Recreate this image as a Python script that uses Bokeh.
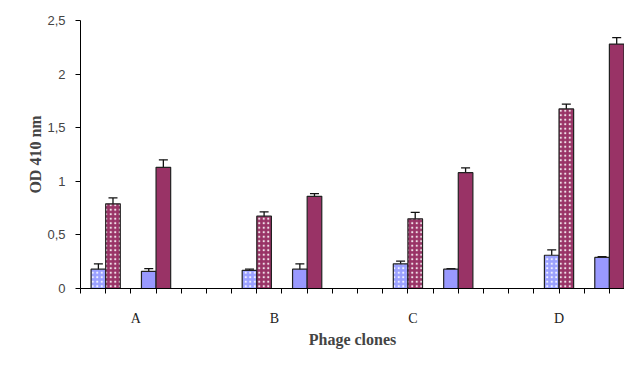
from bokeh.plotting import figure
from bokeh.models import ColumnDataSource, Whisker, FixedTicker, Range1d, TeeHead
from bokeh.embed import file_html
from bokeh.resources import INLINE

# ---- data ----
categories = ["A", "B", "C", "D"]
dotted_blue = [0.18, 0.17, 0.23, 0.31]
dotted_blue_err = [0.05, 0.01, 0.025, 0.05]
dotted_maroon = [0.79, 0.675, 0.65, 1.675]
dotted_maroon_err = [0.055, 0.04, 0.06, 0.045]
solid_blue = [0.16, 0.18, 0.18, 0.29]
solid_blue_err = [0.025, 0.05, 0.006, 0.006]
solid_maroon = [1.13, 0.86, 1.08, 2.28]
solid_maroon_err = [0.07, 0.025, 0.045, 0.06]
y_ticks = [0, 0.5, 1, 1.5, 2, 2.5]
y_tick_labels = ["0", "0,5", "1", "1,5", "2", "2,5"]

# ---- layout helpers ----
bw = 0.58
label_pos = [2.2, 7.7, 13.2, 19.0]
pair1 = [1 + 6 * i for i in range(len(categories))]
pair2 = [3 + 6 * i for i in range(len(categories))]

p = figure(width=624, height=350, output_backend="svg", toolbar_location=None,
           x_range=Range1d(0, 21.6), y_range=Range1d(0, 2.5),
           min_border_left=80, min_border_right=0, min_border_top=20,
           min_border_bottom=58)
p.outline_line_color = None
p.xgrid.visible = False
p.ygrid.visible = False
p.background_fill_color = "white"
p.border_fill_color = "white"

series = [
    ([x - bw / 2 for x in pair1], dotted_blue, dotted_blue_err, "#9aa0ff", "."),
    ([x + bw / 2 for x in pair1], dotted_maroon, dotted_maroon_err, "#993366", "."),
    ([x - bw / 2 for x in pair2], solid_blue, solid_blue_err, "#9999ff", None),
    ([x + bw / 2 for x in pair2], solid_maroon, solid_maroon_err, "#993366", None),
]

for xs, vals, errs, col, hatch in series:
    src = ColumnDataSource(dict(
        x=xs, top=vals,
        upper=[v + e for v, e in zip(vals, errs)],
        lower=[v - e for v, e in zip(vals, errs)]))
    kw = {}
    if hatch:
        kw = dict(hatch_pattern=hatch, hatch_color="white", hatch_scale=4.5,
                  hatch_weight=1.0, hatch_alpha=0.85)
    p.vbar(x="x", top="top", bottom=0, width=bw, source=src, fill_color=col,
           line_color="#222222", line_width=1.2, **kw)
    w = Whisker(source=src, base="x", upper="upper", lower="lower",
                line_color="#111111", line_width=1.3,
                upper_head=TeeHead(size=9, line_color="#111111", line_width=1.3),
                lower_head=TeeHead(size=9, line_color="#111111", line_width=1.3))
    p.add_layout(w)

# y axis
p.yaxis.ticker = FixedTicker(ticks=y_ticks)
p.yaxis.major_label_overrides = {t: l for t, l in zip(y_ticks, y_tick_labels)}
p.yaxis.minor_tick_line_color = None
p.yaxis.major_tick_in = 0
p.yaxis.major_tick_out = 5
p.yaxis.major_label_standoff = 10
p.yaxis.major_label_text_font = "Liberation Sans"
p.yaxis.major_label_text_font_size = "13px"
p.yaxis.major_label_text_color = "#444444"
p.yaxis.axis_label = "OD 410 nm"
p.yaxis.axis_label_text_font = "Liberation Serif"
p.yaxis.axis_label_text_font_style = "bold"
p.yaxis.axis_label_text_font_size = "16px"
p.yaxis.axis_label_standoff = 0
p.yaxis.axis_line_color = "black"

# x axis
p.xaxis.ticker = FixedTicker(ticks=label_pos, minor_ticks=list(range(0, 22)))
p.xaxis.major_label_overrides = {t: c for t, c in zip(label_pos, categories)}
p.xaxis.major_tick_line_color = None
p.xaxis.major_tick_in = 0
p.xaxis.major_tick_out = 0
p.xaxis.minor_tick_in = 0
p.xaxis.minor_tick_out = 5
p.xaxis.minor_tick_line_color = "black"
p.xaxis.major_label_standoff = 17
p.xaxis.major_label_text_font = "Liberation Serif"
p.xaxis.major_label_text_font_size = "14px"
p.xaxis.major_label_text_color = "#222222"
p.xaxis.axis_label = "Phage clones"
p.xaxis.axis_label_text_font = "Liberation Serif"
p.xaxis.axis_label_text_font_style = "bold"
p.xaxis.axis_label_text_font_size = "16px"
p.xaxis.axis_label_standoff = 2
p.xaxis.axis_line_color = "black"

open("out.html", "w").write(file_html(p, INLINE))
